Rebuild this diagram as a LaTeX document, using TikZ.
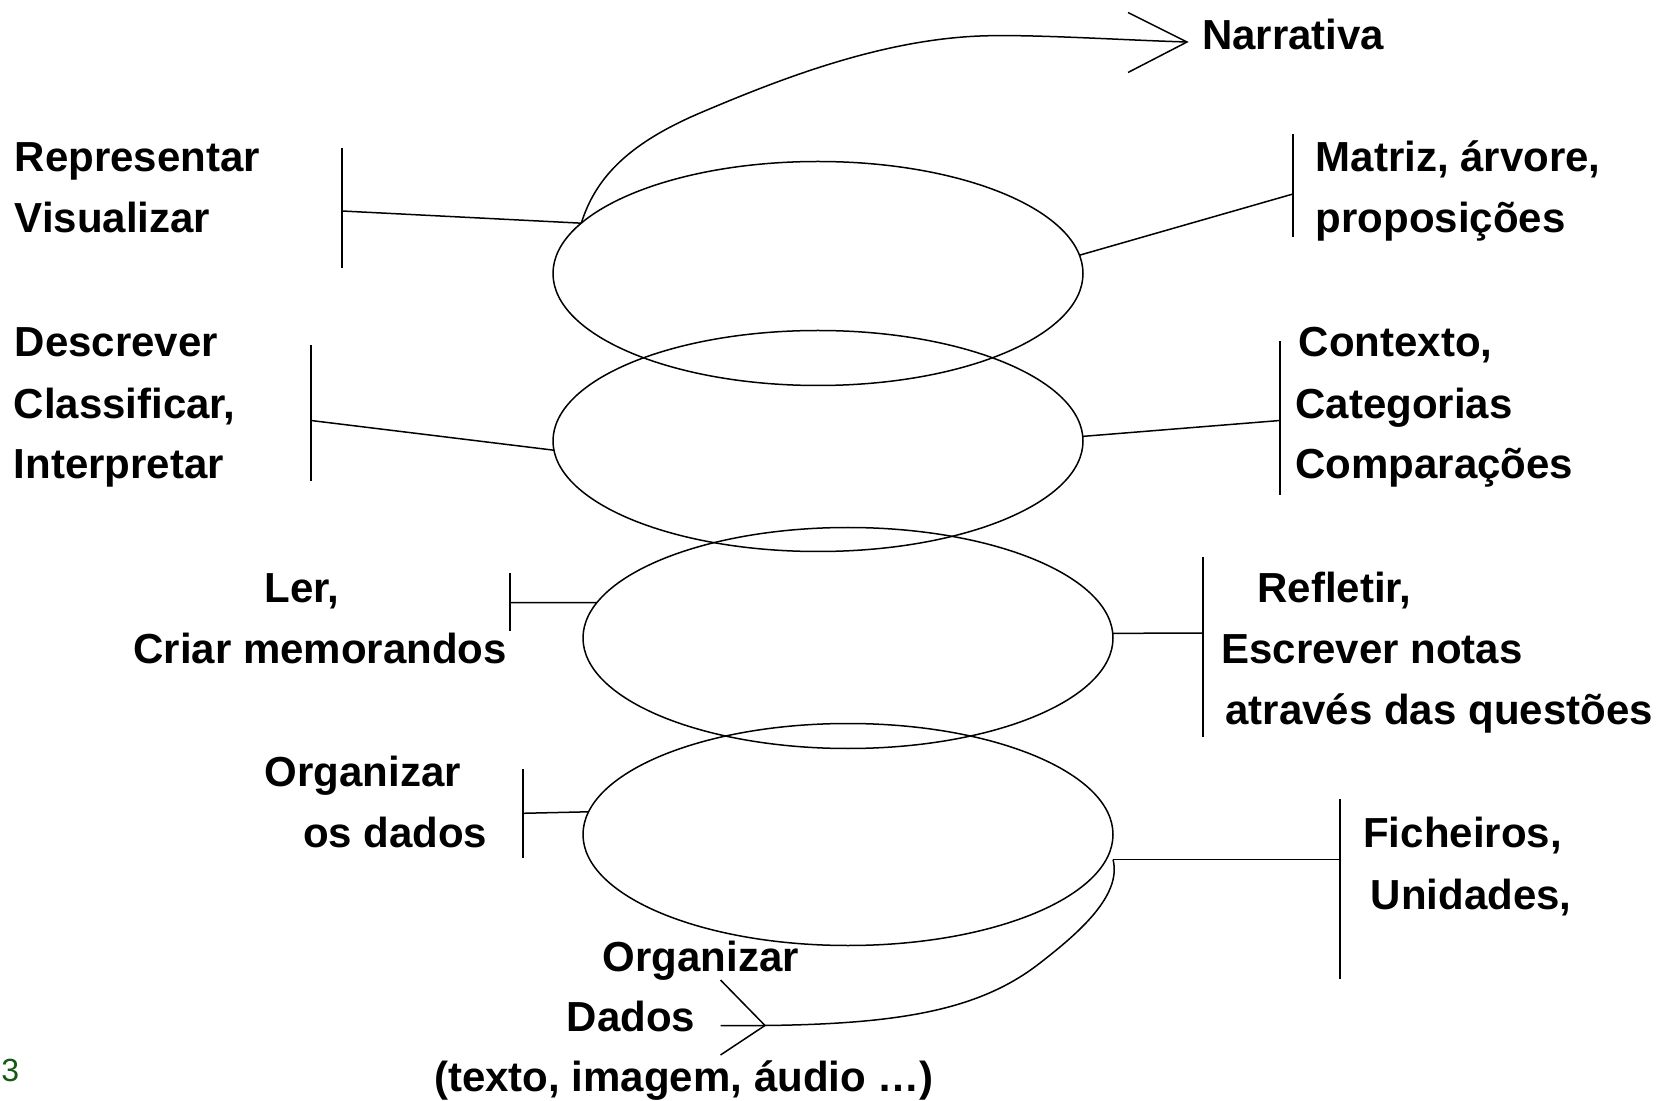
\documentclass[tikz,border=0pt]{standalone}
\usepackage{fontspec}
\setmainfont{Liberation Sans}
\usetikzlibrary{shapes.geometric}
\definecolor{pagegreen}{RGB}{20,90,20}
\begin{document}
\begin{tikzpicture}[x=0.5pt,y=-0.5pt,
  lbl/.style={anchor=base west, inner sep=0pt, outer sep=0pt, font=\bfseries\fontsize{21pt}{25pt}\selectfont},
  oval/.style={ellipse, draw, line width=0.75pt, inner sep=0pt, outer sep=0pt},
  conn/.style={line width=0.75pt},
  bracketbar/.style={line width=1pt}]
\useasboundingbox (0,0) rectangle (1661,1101);

% ellipses
\node[oval, minimum width=265pt, minimum height=112pt] (e1) at (818,273.5) {};
\node[oval, minimum width=265pt, minimum height=110.5pt] (e2) at (818,441) {};
\node[oval, minimum width=265pt, minimum height=110.5pt] (e3) at (848,638) {};
\node[oval, minimum width=265pt, minimum height=111pt] (e4) at (848,834.5) {};

% left labels
\node[lbl] (t1a) at (14.8,171.6) {Representar};
\node[lbl] (t1b) at (14.8,233) {Visualizar};
\node[lbl] (t2a) at (14.8,357) {Descrever};
\node[lbl] (t2b) at (13.8,418.4) {Classificar,};
\node[lbl] (t2c) at (13.8,478.8) {Interpretar};
\node[lbl] (t3a) at (264.8,602.7) {Ler,};
\node[lbl] (t3b) at (133.5,663) {Criar memorandos};
\node[lbl] (t4a) at (264.8,786) {Organizar};
\node[lbl] (t4b) at (303,847.4) {os dados};

% right labels
\node[lbl] (r1a) at (1315.7,171.6) {Matriz, árvore,};
\node[lbl] (r1b) at (1315.7,233) {proposições};
\node[lbl] (r2a) at (1298.7,357) {Contexto,};
\node[lbl] (r2b) at (1295.5,418.4) {Categorias};
\node[lbl] (r2c) at (1295.5,478.8) {Comparações};
\node[lbl] (r3a) at (1257.4,602.7) {Refletir,};
\node[lbl] (r3b) at (1221.4,663) {Escrever notas};
\node[lbl] (r3c) at (1225.6,724.6) {através das questões};
\node[lbl] (r4a) at (1363.3,847.4) {Ficheiros,};
\node[lbl] (r4b) at (1370.7,909) {Unidades,};

% top and bottom labels
\node[lbl] (narr) at (1202,49.8) {Narrativa};
\node[lbl] (b1) at (602.7,971.4) {Organizar};
\node[lbl] (b2) at (566.7,1031.8) {Dados};
\node[lbl] (b3) at (434.3,1091) {(texto, imagem, áudio …)};
\node[anchor=base west, inner sep=0pt, font=\fontsize{16pt}{19pt}\selectfont, text=pagegreen] (pg) at (1,1081.7) {3};

% left brackets and connectors
\coordinate (bl1) at (342,211);
\coordinate (bl2) at (311,420.5);
\coordinate (bl3) at (509.5,602.7);
\coordinate (bl4) at (523,813.3);
\draw[bracketbar] (342,148) -- (342,268);
\draw[bracketbar] (311,345) -- (311,481);
\draw[bracketbar] (509.5,573) -- (509.5,631);
\draw[bracketbar] (523,769) -- (523,858);
\draw[conn] (bl1) -- (e1.168);
\draw[conn] (bl2) -- (e2.182.2);
\draw[conn] (bl3) -- (e3.172.1);
\draw[conn] (bl4) -- (e4.175.4);

% right brackets and connectors
\coordinate (br1) at (1293,194);
\coordinate (br2) at (1280,420.5);
\coordinate (br3) at (1203,633);
\coordinate (br4) at (1340,859.5);
\coordinate (c4r) at (1113,859.5);
\draw[bracketbar] (1293,134.5) -- (1293,237);
\draw[bracketbar] (1280,341) -- (1280,495);
\draw[bracketbar] (1203,557) -- (1203,737);
\draw[bracketbar] (1340,799) -- (1340,979);
\draw[conn] (e1.4.2) -- (br1);
\draw[conn] (e2.1.1) -- (br2);
\draw[conn] (e3.1) -- (br3);
\draw[conn] (c4r) -- (br4);

% Narrativa curve with open arrow head
\coordinate (ntip) at (1187,42);
\draw[conn] (e1.168) .. controls (595,180) and (625,145) .. (700,113)
  .. controls (780,79) and (880,40) .. (980,36)
  .. controls (1030,34) and (1120,40) .. (ntip);
\draw[conn, line join=miter] (ntip) ++(-59,-29.5) -- (ntip) -- ++(-59,30.5);

% Dados curve with open arrow head
\coordinate (dtip) at (765,1025.5);
\coordinate (dd) at (720.5,1025.7);
\draw[conn] (dd) -- (dtip) .. controls (900,1024) and (980,1010) .. (1040,963)
  .. controls (1080,932) and (1122,895) .. (c4r);
\draw[conn, line join=miter] (dtip) ++(-44.5,-45.5) -- (dtip) -- ++(-44.5,29.5);
\end{tikzpicture}
\end{document}
